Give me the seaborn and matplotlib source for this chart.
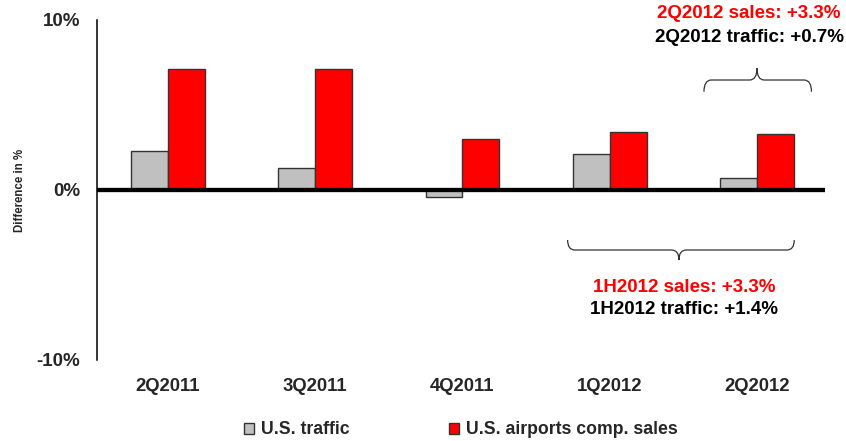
import matplotlib
matplotlib.use("Agg")
import matplotlib.pyplot as plt
import seaborn as sns
import pandas as pd
from matplotlib.path import Path
from matplotlib.patches import PathPatch, Patch

quarters = ["2Q2011", "3Q2011", "4Q2011", "1Q2012", "2Q2012"]
traffic = [2.3, 1.3, -0.4, 2.1, 0.7]
sales = [7.1, 7.1, 3.0, 3.4, 3.3]
series_names = ["U.S. traffic", "U.S. airports comp. sales"]
series_colors = ["#C0C0C0", "#FF0000"]
ytick_vals = [-10, 0, 10]
ytick_labels = ["-10%", "0%", "10%"]

df = pd.DataFrame({
    "quarter": quarters * 2,
    "value": traffic + sales,
    "series": [series_names[0]] * len(quarters) + [series_names[1]] * len(quarters),
})

sns.set_theme(style="white")
plt.rcParams["font.family"] = ["Liberation Sans", "DejaVu Sans"]
plt.rcParams["font.weight"] = "bold"

W, H = 846, 441
fig = plt.figure(figsize=(W / 100, H / 100), dpi=100)
ax = fig.add_axes([97 / W, 1 - 360 / H, (825 - 97) / W, (360 - 20) / H])

sns.barplot(data=df, x="quarter", y="value", hue="series", order=quarters,
            hue_order=series_names, palette=series_colors, width=0.5,
            saturation=1, edgecolor="#333333", linewidth=1.0, legend=False,
            ax=ax)

ax.set_xlim(-0.482, 4.462)
ax.set_ylim(-10, 10)
ax.axhline(0, color="black", lw=3.1, zorder=5)
for s in ["top", "right", "bottom"]:
    ax.spines[s].set_visible(False)
ax.spines["left"].set_color("black")
ax.spines["left"].set_linewidth(1.1)
ax.set_yticks(ytick_vals)
ax.set_yticklabels(ytick_labels, fontsize=13.5, fontweight="bold")
ax.tick_params(axis="y", length=0, pad=12)
ax.tick_params(axis="x", length=0, pad=13, labelsize=13.3)
for t in ax.get_xticklabels():
    t.set_fontweight("bold")
ax.set_xlabel("")
ax.set_ylabel("")
fig.text(20 / W, 1 - 190 / H, "Difference in %", rotation=90, ha="center",
         va="center", fontsize=8.3, fontweight="bold")


def brace(x0, x1, xm, y_end, y_mid, y_tip, r=0.05):
    verts = [
        (x0, y_end), (x0, y_mid), (x0 + r, y_mid),
        (xm - r, y_mid), (xm, y_mid), (xm, y_tip),
        (xm, y_mid), (xm + r, y_mid),
        (x1 - r, y_mid), (x1, y_mid), (x1, y_end),
    ]
    codes = [Path.MOVETO, Path.CURVE3, Path.CURVE3,
             Path.LINETO, Path.CURVE3, Path.CURVE3,
             Path.CURVE3, Path.CURVE3,
             Path.LINETO, Path.CURVE3, Path.CURVE3]
    p = PathPatch(Path(verts, codes), fill=False, edgecolor="#333333",
                  lw=0.9, clip_on=False, zorder=6)
    ax.add_patch(p)


brace(3.64, 4.37, 4.0, 5.78, 6.47, 7.16)
brace(2.714, 4.253, 3.47, -2.94, -3.53, -4.12)

fig.text(749 / W, 1 - 14 / H, "2Q2012 sales: +3.3%", color="#FF0000",
         ha="center", va="center", fontsize=13.5, fontweight="bold")
fig.text(749 / W, 1 - 37 / H, "2Q2012 traffic: +0.7%", color="black",
         ha="center", va="center", fontsize=13.5, fontweight="bold")
fig.text(684 / W, 1 - 288 / H, "1H2012 sales: +3.3%", color="#FF0000",
         ha="center", va="center", fontsize=13.5, fontweight="bold")
fig.text(684 / W, 1 - 309 / H, "1H2012 traffic: +1.4%", color="black",
         ha="center", va="center", fontsize=13.5, fontweight="bold")

handles = [Patch(facecolor=c, edgecolor="#333333", linewidth=1.0, label=n)
           for c, n in zip(series_colors, series_names)]
fig.legend(handles=handles, loc="center", ncol=2,
           bbox_to_anchor=(461 / W, 1 - 430 / H), frameon=False,
           handlelength=0.6, handleheight=0.6, handletextpad=0.4,
           columnspacing=5.6, prop={"size": 12.7, "weight": "bold"})

fig.savefig("out.png", dpi=100)
